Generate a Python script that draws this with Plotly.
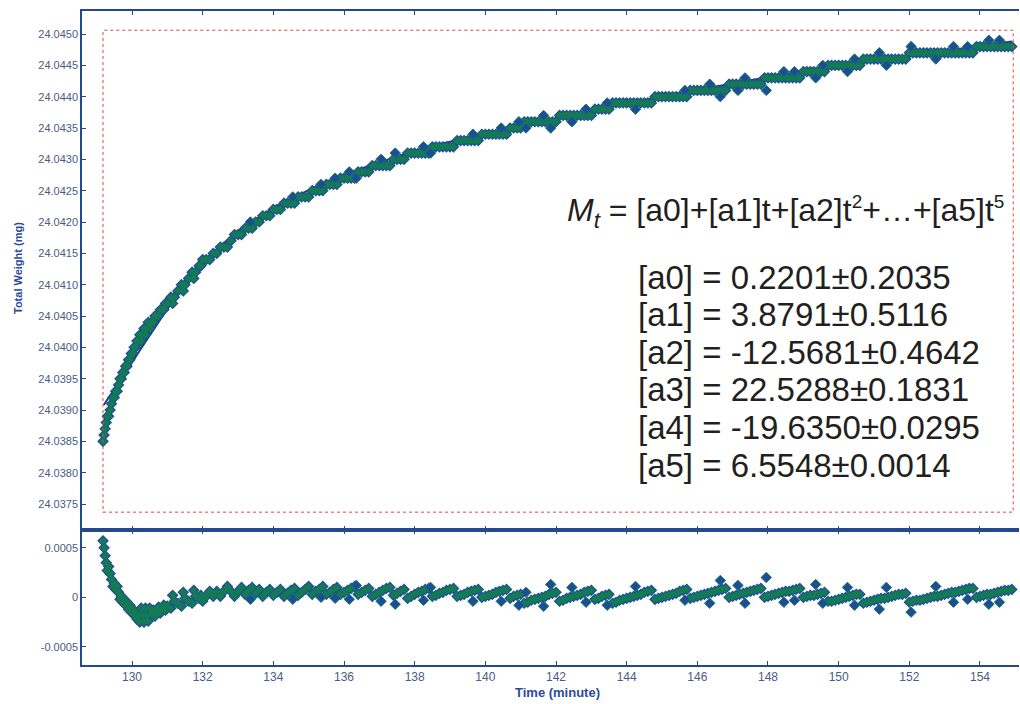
import plotly.graph_objects as go

# ---- measured samples: time (min), total weight (mg), fit residual (mg) ----
time_min = [
    129.18, 129.21, 129.24, 129.27, 129.30, 129.34, 129.38, 129.42, 129.46, 129.50,
    129.54, 129.58, 129.62, 129.66, 129.70, 129.74, 129.78, 129.82, 129.86, 129.90,
    129.94, 129.98, 130.02, 130.06, 130.10, 130.14, 130.18, 130.22, 130.26, 130.30,
    130.34, 130.38, 130.42, 130.46, 130.50, 130.55, 130.60, 130.65, 130.70, 130.75,
    130.80, 130.85, 130.90, 130.95, 131.00,
    131.10, 131.15, 131.20, 131.30, 131.40, 131.45, 131.50, 131.60, 131.70, 131.75,
    131.80, 131.90, 131.95, 132.00,
    132.1, 132.2, 132.3, 132.4, 132.5, 132.6, 132.7, 132.8, 132.9, 133.0,
    133.1, 133.2, 133.3, 133.4, 133.5, 133.6, 133.7, 133.8, 133.9, 134.0,
    134.1, 134.2, 134.3, 134.4, 134.5, 134.6, 134.7, 134.8, 134.9, 135.0,
    135.1, 135.2, 135.3, 135.4, 135.5, 135.6, 135.7, 135.8, 135.9, 136.0,
    136.1, 136.2, 136.3, 136.4, 136.5, 136.6, 136.7, 136.8, 136.9, 137.0,
    137.1, 137.2, 137.3, 137.4, 137.5, 137.6, 137.7, 137.8, 137.9, 138.0,
    138.1, 138.2, 138.3, 138.4, 138.5, 138.6, 138.7, 138.8, 138.9, 139.0,
    139.1, 139.2, 139.3, 139.4, 139.5, 139.6, 139.7, 139.8, 139.9, 140.0,
    140.1, 140.2, 140.3, 140.4, 140.5, 140.6, 140.7, 140.8, 140.9, 141.0,
    141.1, 141.2, 141.3, 141.4, 141.5, 141.6, 141.7, 141.8, 141.9, 142.0,
    142.1, 142.2, 142.3, 142.4, 142.5, 142.6, 142.7, 142.8, 142.9, 143.0,
    143.1, 143.2, 143.3, 143.4, 143.5, 143.6, 143.7, 143.8, 143.9, 144.0,
    144.1, 144.2, 144.3, 144.4, 144.5, 144.6, 144.7, 144.8, 144.9, 145.0,
    145.1, 145.2, 145.3, 145.4, 145.5, 145.6, 145.7, 145.8, 145.9, 146.0,
    146.1, 146.2, 146.3, 146.4, 146.5, 146.6, 146.7, 146.8, 146.9, 147.0,
    147.1, 147.2, 147.3, 147.4, 147.5, 147.6, 147.7, 147.8, 147.9, 148.0,
    148.1, 148.2, 148.3, 148.4, 148.5, 148.6, 148.7, 148.8, 148.9, 149.0,
    149.1, 149.2, 149.3, 149.4, 149.5, 149.6, 149.7, 149.8, 149.9, 150.0,
    150.1, 150.2, 150.3, 150.4, 150.5, 150.6, 150.7, 150.8, 150.9, 151.0,
    151.1, 151.2, 151.3, 151.4, 151.5, 151.6, 151.7, 151.8, 151.9, 152.0,
    152.1, 152.2, 152.3, 152.4, 152.5, 152.6, 152.7, 152.8, 152.9, 153.0,
    153.1, 153.2, 153.3, 153.4, 153.5, 153.6, 153.7, 153.8, 153.9, 154.0,
    154.1, 154.2, 154.3, 154.4, 154.5, 154.6, 154.7, 154.8, 154.9,
]

weight_mg = [
    24.0385, 24.0386, 24.0387, 24.0388, 24.0389, 24.0389, 24.0390, 24.0391, 24.0392, 24.0392,
    24.0393, 24.0393, 24.0394, 24.0395, 24.0395, 24.0396, 24.0396, 24.0397, 24.0397, 24.0398,
    24.0398, 24.0399, 24.0399, 24.0400, 24.0400, 24.0401, 24.0401, 24.0402, 24.0401, 24.0402,
    24.0403, 24.0402, 24.0403, 24.0404, 24.0403, 24.0404, 24.0404, 24.0405, 24.0405, 24.0405,
    24.0406, 24.0406, 24.0406, 24.0407, 24.0407,
    24.0408, 24.0407, 24.0408, 24.0409, 24.0410, 24.0409, 24.0410, 24.0411, 24.0412, 24.0411,
    24.0412, 24.0413, 24.0413, 24.0414,
    24.0414, 24.0414, 24.0415, 24.0415, 24.0416, 24.0416, 24.0416, 24.0417, 24.0418, 24.0418,
    24.0418, 24.0419, 24.0419, 24.0419, 24.0420, 24.0420, 24.0421, 24.0421, 24.0421, 24.0422,
    24.0422, 24.0422, 24.0423, 24.0423, 24.0423, 24.0423, 24.0424, 24.0424, 24.0424, 24.0424,
    24.0425, 24.0425, 24.0425, 24.0425, 24.0426, 24.0426, 24.0426, 24.0426, 24.0427, 24.0427,
    24.0427, 24.0427, 24.0427, 24.0428, 24.0428, 24.0428, 24.0428, 24.0429, 24.0429, 24.0429,
    24.0429, 24.0429, 24.0429, 24.0430, 24.0430, 24.0430, 24.0430, 24.0431, 24.0431, 24.0431,
    24.0431, 24.0431, 24.0431, 24.0431, 24.0432, 24.0432, 24.0432, 24.0432, 24.0432, 24.0432,
    24.0432, 24.0433, 24.0433, 24.0433, 24.0433, 24.0433, 24.0433, 24.0433, 24.0434, 24.0434,
    24.0434, 24.0434, 24.0434, 24.0434, 24.0434, 24.0434, 24.0435, 24.0435, 24.0435, 24.0435,
    24.0436, 24.0436, 24.0436, 24.0436, 24.0436, 24.0436, 24.0436, 24.0436, 24.0436, 24.0436,
    24.0437, 24.0437, 24.0437, 24.0437, 24.0437, 24.0437, 24.0437, 24.0437, 24.0437, 24.0437,
    24.0438, 24.0438, 24.0438, 24.0438, 24.0438, 24.0439, 24.0439, 24.0439, 24.0439, 24.0439,
    24.0439, 24.0439, 24.0439, 24.0439, 24.0439, 24.0439, 24.0439, 24.0440, 24.0440, 24.0440,
    24.0440, 24.0440, 24.0440, 24.0440, 24.0440, 24.0440, 24.0440, 24.0441, 24.0441, 24.0441,
    24.0441, 24.0441, 24.0441, 24.0441, 24.0441, 24.0441, 24.0441, 24.0441, 24.0442, 24.0442,
    24.0442, 24.0442, 24.0442, 24.0442, 24.0442, 24.0442, 24.0442, 24.0442, 24.0443, 24.0443,
    24.0443, 24.0443, 24.0443, 24.0443, 24.0443, 24.0443, 24.0443, 24.0443, 24.0443, 24.0444,
    24.0444, 24.0444, 24.0444, 24.0444, 24.0444, 24.0444, 24.0445, 24.0445, 24.0445, 24.0445,
    24.0445, 24.0445, 24.0445, 24.0445, 24.0445, 24.0445, 24.0446, 24.0446, 24.0446, 24.0446,
    24.0446, 24.0446, 24.0446, 24.0446, 24.0446, 24.0446, 24.0446, 24.0446, 24.0446, 24.0447,
    24.0447, 24.0447, 24.0447, 24.0447, 24.0447, 24.0447, 24.0447, 24.0447, 24.0447, 24.0447,
    24.0447, 24.0447, 24.0447, 24.0447, 24.0447, 24.0447, 24.0447, 24.0447, 24.0448, 24.0448,
    24.0448, 24.0448, 24.0448, 24.0448, 24.0448, 24.0448, 24.0448, 24.0448, 24.0448,
]

residual_mg = [
    0.00057, 0.00050, 0.00042, 0.00035, 0.00027, 0.00031, 0.00024, 0.00018, 0.00011, 0.00014,
    0.00008, 0.00011, 0.00005, -0.00002, 0.00001, -0.00005, -0.00002, -0.00008, -0.00005, -0.00012,
    -0.00008, -0.00015, -0.00012, -0.00018, -0.00015, -0.00022, -0.00018, -0.00025, -0.00011, -0.00018,
    -0.00025, -0.00011, -0.00018, -0.00024, -0.00011, -0.00017, -0.00013, -0.00019, -0.00014, -0.00010,
    -0.00016, -0.00012, -0.00008, -0.00013, -0.00009,
    -0.00011, 0.00002, -0.00004, -0.00006, -0.00009, 0.00005, -0.00001, -0.00004, -0.00006, 0.00007,
    0.00001, -0.00001, 0.00002, -0.00004,
    0.00001, 0.00006, 0.00001, 0.00006, 0.00001, 0.00006, 0.00011, 0.00006, 0.00001, 0.00006,
    0.00010, 0.00003, 0.00007, 0.00010, 0.00004, 0.00008, 0.00001, 0.00005, 0.00008, 0.00002,
    0.00005, 0.00008, 0.00001, 0.00004, 0.00007, 0.00009, 0.00002, 0.00005, 0.00008, 0.00011,
    0.00003, 0.00006, 0.00008, 0.00011, 0.00003, 0.00005, 0.00008, 0.00010, 0.00003, 0.00005,
    0.00007, 0.00009, 0.00011, 0.00003, 0.00005, 0.00007, 0.00009, 0.00001, 0.00003, 0.00005,
    0.00007, 0.00009, 0.00010, 0.00002, 0.00004, 0.00006, 0.00008, -0.00001, 0.00001, 0.00003,
    0.00005, 0.00006, 0.00008, 0.00009, 0.00001, 0.00002, 0.00004, 0.00005, 0.00007, 0.00008,
    0.00009, 0.00001, 0.00002, 0.00003, 0.00005, 0.00006, 0.00007, 0.00008, 0.00000, 0.00001,
    0.00002, 0.00003, 0.00005, 0.00006, 0.00007, 0.00008, -0.00001, 0.00001, 0.00002, 0.00003,
    -0.00006, -0.00005, -0.00003, -0.00002, -0.00001, 0.00000, 0.00001, 0.00003, 0.00004, 0.00005,
    -0.00004, -0.00003, -0.00001, 0.00000, 0.00001, 0.00002, 0.00003, 0.00005, 0.00006, 0.00007,
    -0.00002, -0.00001, 0.00001, 0.00002, 0.00003, -0.00006, -0.00005, -0.00003, -0.00002, -0.00001,
    0.00000, 0.00001, 0.00002, 0.00003, 0.00005, 0.00006, 0.00007, -0.00002, -0.00001, 0.00000,
    0.00001, 0.00002, 0.00003, 0.00004, 0.00006, 0.00007, 0.00008, -0.00001, 0.00000, 0.00001,
    0.00002, 0.00003, 0.00004, 0.00005, 0.00006, 0.00007, 0.00008, 0.00009, 0.00000, 0.00001,
    0.00002, 0.00003, 0.00004, 0.00005, 0.00006, 0.00007, 0.00008, 0.00009, 0.00000, 0.00001,
    0.00002, 0.00003, 0.00004, 0.00005, 0.00006, 0.00006, 0.00007, 0.00008, 0.00009, 0.00000,
    0.00001, 0.00002, 0.00002, 0.00003, 0.00004, 0.00005, -0.00004, -0.00004, -0.00003, -0.00002,
    -0.00001, 0.00000, 0.00001, 0.00002, 0.00003, 0.00003, -0.00006, -0.00005, -0.00004, -0.00003,
    -0.00002, -0.00001, -0.00001, 0.00000, 0.00001, 0.00002, 0.00003, 0.00003, 0.00004, -0.00005,
    -0.00004, -0.00003, -0.00003, -0.00002, -0.00001, 0.00000, 0.00001, 0.00001, 0.00002, 0.00003,
    0.00004, 0.00005, 0.00005, 0.00006, 0.00007, 0.00008, 0.00009, 0.00009, 0.00000, 0.00001,
    0.00002, 0.00003, 0.00003, 0.00004, 0.00005, 0.00006, 0.00007, 0.00007, 0.00008,
]

# isolated readings, one balance step off the main trace
isolated_time = [
    133.35, 134.55, 135.35, 135.75, 136.15, 136.35, 137.05, 137.45, 138.25, 138.45,
    139.65, 140.45, 140.95, 141.15, 141.65, 141.85, 142.45, 142.85, 143.45, 144.25,
    145.65, 146.35, 146.65, 147.15, 147.35, 147.95, 148.45, 148.75, 149.35, 149.55,
    150.25, 150.45, 151.15, 151.35, 152.05, 152.75, 153.25, 153.65, 154.25, 154.55,
]
isolated_weight = [
    24.0420, 24.0424, 24.0426, 24.0427, 24.0428, 24.0427, 24.0430, 24.0431, 24.0432, 24.0431,
    24.0434, 24.0435, 24.0436, 24.0435, 24.0437, 24.0435, 24.0436, 24.0438, 24.0439, 24.0438,
    24.0441, 24.0442, 24.0440, 24.0441, 24.0443, 24.0441, 24.0444, 24.0444, 24.0443, 24.0445,
    24.0444, 24.0446, 24.0447, 24.0445, 24.0448, 24.0446, 24.0448, 24.0448, 24.0449, 24.0449,
]
isolated_residual = [
    -0.00002, -0.00002, 0.00000, -0.00001, -0.00002, 0.00012, -0.00004, -0.00007, -0.00003, 0.00010,
    -0.00004, -0.00004, -0.00008, 0.00005, -0.00009, 0.00013, 0.00010, -0.00005, -0.00008, 0.00011,
    -0.00003, -0.00006, 0.00017, 0.00012, -0.00006, 0.00020, -0.00005, -0.00003, 0.00013, -0.00006,
    0.00010, -0.00008, -0.00012, 0.00010, -0.00015, 0.00011, -0.00005, -0.00002, -0.00007, -0.00005,
]

# ---- fitted polynomial curve, read at knots along the time axis ----
fit_time = [129.2, 129.6, 130.0, 130.5, 131.0, 131.5, 132.0, 132.5, 133.0, 133.5,
            134.0, 134.5, 135.0, 135.5, 136.0, 137.0, 138.0, 139.0, 140.0, 141.0,
            142.0, 143.0, 144.0, 145.0, 146.0, 147.0, 148.0, 149.0, 150.0, 151.0,
            152.0, 153.0, 154.0, 154.9]
fit_weight = [24.03908, 24.03942, 24.03976, 24.04019, 24.04061, 24.04099, 24.04136, 24.04161,
              24.04186, 24.04204, 24.04222, 24.04237, 24.04251, 24.04263, 24.04275, 24.04295,
              24.04313, 24.04328, 24.04341, 24.04353, 24.04365, 24.04377, 24.04389, 24.04400,
              24.04411, 24.04421, 24.04431, 24.04440, 24.04448, 24.04457, 24.04465, 24.04473,
              24.04481, 24.04488]

# ---- fit parameters shown in the plot ----
param_names = ["[a0]", "[a1]", "[a2]", "[a3]", "[a4]", "[a5]"]
param_values = ["0.2201", "3.8791", "-12.5681", "22.5288", "-19.6350", "6.5548"]
param_errors = ["0.2035", "0.5116", "0.4642", "0.1831", "0.0295", "0.0014"]

# axis ticks
x_ticks = [130, 132, 134, 136, 138, 140, 142, 144, 146, 148, 150, 152, 154]
w_ticks = [24.0375, 24.0380, 24.0385, 24.0390, 24.0395, 24.0400, 24.0405, 24.0410,
           24.0415, 24.0420, 24.0425, 24.0430, 24.0435, 24.0440, 24.0445, 24.0450]
r_ticks = [-0.0005, 0, 0.0005]
r_tick_text = ["-0.0005", "0", "0.0005"]

# ---- styling ----
W, H = 1020, 704
PL, PR, PT, PB = 82, 1019, 11, 665          # plot area in pixels
SPLIT = 530                                   # boundary between panels
AXIS = "#234a8f"
TICKTXT = "#4a5a86"
TITLE = "#2b4c9c"
GREEN = "#137a55"
NAVY = "#1d4d98"
FONT = "Liberation Sans, Arial, sans-serif"
FORMULA_SIZE = 32
PARAM_SIZE = 33


def px(x):
    return (x - PL) / (PR - PL)


def py(y):
    return (PB - y) / (PB - PT)


rim = dict(symbol="diamond", size=9, color=NAVY, line=dict(width=0))
core = dict(symbol="diamond", size=6.5, color=GREEN, line=dict(width=0))
lone = dict(symbol="diamond", size=8, color=NAVY, line=dict(color=GREEN, width=1))

fig = go.Figure()

# fitted curve (under the data)
fig.add_trace(go.Scatter(
    x=fit_time, y=fit_weight, mode="lines", xaxis="x2", yaxis="y2",
    line=dict(color="#1b3b80", width=2, shape="spline", smoothing=0.8),
    hoverinfo="skip", showlegend=False))


def add_points(xs, ys, xa, ya, iso_x, iso_y):
    fig.add_trace(go.Scatter(x=xs, y=ys, mode="markers", xaxis=xa, yaxis=ya,
                             marker=rim, showlegend=False))
    fig.add_trace(go.Scatter(x=xs, y=ys, mode="markers", xaxis=xa, yaxis=ya,
                             marker=core, showlegend=False))
    fig.add_trace(go.Scatter(x=iso_x, y=iso_y, mode="markers", xaxis=xa, yaxis=ya,
                             marker=lone, showlegend=False))


# measured weights (top) and residuals (bottom)
add_points(time_min, weight_mg, "x2", "y2", isolated_time, isolated_weight)
add_points(time_min, residual_mg, "x", "y", isolated_time, isolated_residual)

xr = [130 - (132 - PL) / 35.333, 130 + (PR - 132) / 35.333]
w_top = 24.0450 + (34 - PT) / 62667
w_bot = 24.0375 - (SPLIT - 504) / 62667
r_top = (597.3 - SPLIT) / 99000
r_bot = -(PB - 597.3) / 99000

axis_common = dict(showgrid=False, zeroline=False, showline=True, linecolor=AXIS,
                   linewidth=1.5, ticks="inside", ticklen=4, tickwidth=1.2,
                   tickcolor=AXIS,
                   tickfont=dict(family=FONT, size=11, color=TICKTXT))

split_frac = py(SPLIT)

fig.update_layout(
    width=W, height=H,
    margin=dict(l=PL, r=W - PR, t=PT, b=H - PB),
    paper_bgcolor="white", plot_bgcolor="white",
    xaxis=dict(axis_common, domain=[0, 1], anchor="y", range=xr,
               tickvals=x_ticks, ticktext=[str(v) for v in x_ticks],
               mirror="ticks", tickfont=dict(family=FONT, size=12, color=TICKTXT)),
    yaxis=dict(axis_common, domain=[0, split_frac], anchor="x", range=[r_bot, r_top],
               tickvals=r_ticks, ticktext=r_tick_text),
    xaxis2=dict(axis_common, domain=[0, 1], anchor="y2", range=xr, side="top",
                tickvals=x_ticks, showticklabels=False, mirror="ticks", matches="x"),
    yaxis2=dict(axis_common, domain=[split_frac, 1], anchor="x2", range=[w_bot, w_top],
                tickvals=w_ticks, ticktext=[f"{v:.4f}" for v in w_ticks]),
    hovermode=False,
)

# dotted frame around the fitted region
fig.add_shape(type="rect", xref="x2", yref="y2",
              x0=129.18, x1=154.94, y0=24.03737, y1=24.04506,
              line=dict(color="#e2473a", width=1, dash="dot"))

small = f'<span style="font-size:{int(FORMULA_SIZE * 0.62)}px">'
formula = ("<i>M</i><sub><i>t</i></sub> = [a0]+[a1]t+[a2]t"
           f"<sup>{small}2</span></sup>+…+[a5]t<sup>{small}5</span></sup>")

annotations = [
    dict(text="<b>Total Weight (mg)</b>", x=px(18), y=py(268), textangle=-90,
         font=dict(family=FONT, size=11, color=TITLE)),
    dict(text="<b>Time (minute)</b>", x=px(557), y=py(692),
         font=dict(family=FONT, size=13, color=TITLE)),
    dict(text=formula, x=px(565), y=py(212), xanchor="left",
         font=dict(family=FONT, size=FORMULA_SIZE, color="#231f20")),
]
for i, (n, v, e) in enumerate(zip(param_names, param_values, param_errors)):
    annotations.append(dict(text=f"{n} = {v}±{e}", x=px(636), y=py(277 + 37.6 * i),
                            xanchor="left",
                            font=dict(family=FONT, size=PARAM_SIZE, color="#231f20")))
for a in annotations:
    a.setdefault("xanchor", "center")
    a.update(xref="paper", yref="paper", yanchor="middle", showarrow=False)
fig.update_layout(annotations=annotations)

fig.write_html("out.html")
